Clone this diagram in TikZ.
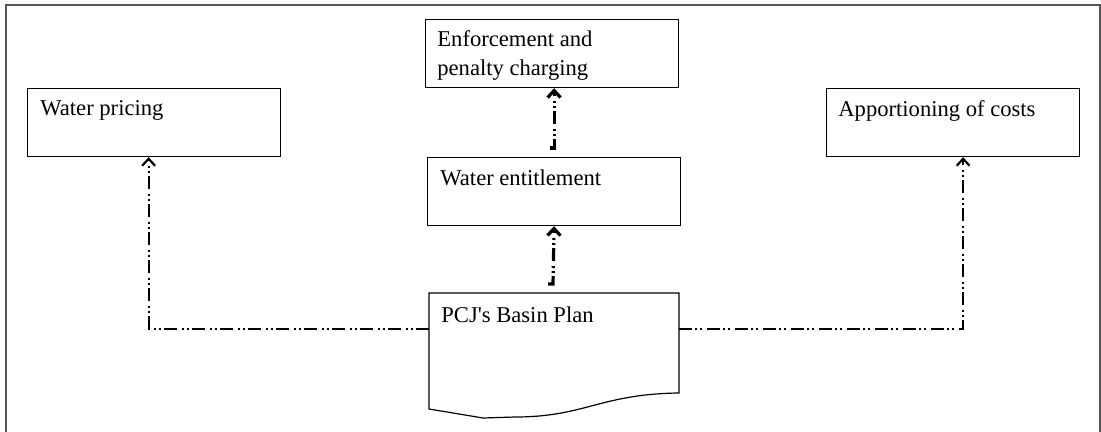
\documentclass[tikz,border=0pt]{standalone}
\usepackage{fontspec}
\setmainfont{Liberation Serif}
\usetikzlibrary{arrows.meta}

\definecolor{framegray}{RGB}{85,85,85}

\tikzset{
  box/.style={draw, line width=0.6pt, anchor=north west, inner sep=0pt,
    minimum width=126.5pt, minimum height=34pt},
  boxtext/.style={anchor=base west, inner sep=0pt, align=left,
    font=\fontsize{11.3}{14.5}\selectfont},
  link/.style={line width=1.1pt,
    dash pattern=on 6.5pt off 1.5pt on 1pt off 1.5pt on 1pt off 2.5pt,
    -{Straight Barb[length=3.5pt,width=6.5pt]}},
  uplink/.style={link, line width=1.6pt}
}

\begin{document}
\begin{tikzpicture}[x=0.5pt,y=-0.5pt]
        \useasboundingbox (0,0) rectangle (1101,432);
        % outer frame, bottom edge runs off the page
        \draw[framegray, line width=1pt] (6,440) -- (6,5) -- (1100,5) -- (1100,440);
        %
        \node[box] (price) at (27,88) {};
        \node[box] (enf) at (425,19) {};
        \node[box] (ent) at (427,157) {};
        \node[box] (costs) at (826,88) {};
        \node[boxtext] (price-t) at ([shift={(13,28)}]price.north west) {Water pricing};
        % base sits on the last line here
        \node[boxtext] (enf-t) at ([shift={(12,57)}]enf.north west) {Enforcement and\\penalty charging};
        \node[boxtext] (ent-t) at ([shift={(13,29)}]ent.north west) {Water entitlement};
        \node[boxtext] (costs-t) at ([shift={(12,29)}]costs.north west) {Apportioning of costs};
        %
        % the basin plan as a document sheet
        \coordinate (plan-nw) at (429,293);
        \coordinate (plan-n) at (553,293);
        \coordinate (plan-w) at (429,329);
        \coordinate (plan-e) at (679,329);
        \draw[line width=0.6pt] (plan-nw) -- (679,293) -- (679,393)
            .. controls (600,394) and (585,417) .. (515,417) -- (483,418) -- (429,409) -- cycle;
        \node[boxtext] (plan-t) at ([shift={(12,29)}]plan-nw) {PCJ\textquotesingle s Basin Plan};
        %
        \draw[link] (plan-w) -| ([xshift=-2.75pt]price.south);
        \draw[link] (plan-e) -| ([xshift=5pt]costs.south);
        \draw[uplink] ([shift={(-5,-9)}]plan-n) -- ++(5,0) -- (ent.south);
        \draw[uplink] ([shift={(-4,-9)}]ent.north) -- ++(4,0) -- (enf.south -| ent.north);
\end{tikzpicture}
\end{document}
